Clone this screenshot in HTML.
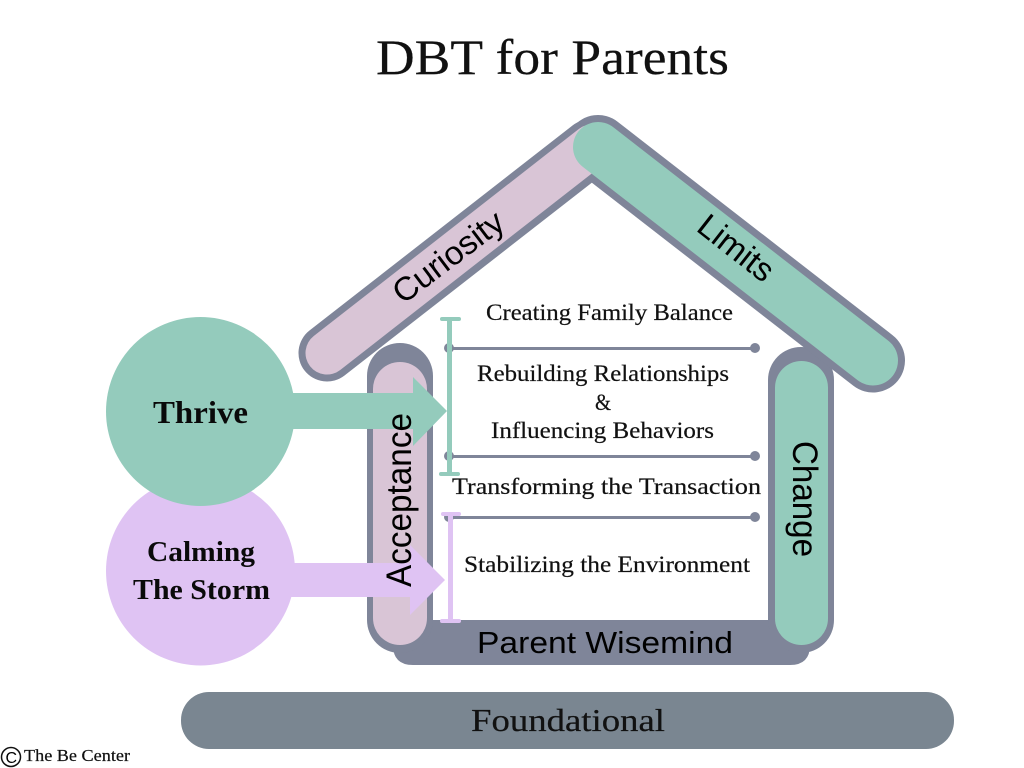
<!DOCTYPE html>
<html>
<head>
<meta charset="utf-8">
<style>
html,body{margin:0;padding:0;background:#fff;width:1024px;height:768px;overflow:hidden}
svg{display:block}
.s{font-family:"Liberation Serif",serif;fill:#111;stroke:#111;stroke-width:.2}
.b{font-family:"Liberation Serif",serif;font-weight:bold;fill:#0a0a0a}
.a{font-family:"Liberation Sans",sans-serif;fill:#000}
</style>
</head>
<body>
<svg width="1024" height="768" viewBox="0 0 1024 768" xmlns="http://www.w3.org/2000/svg">
<rect width="1024" height="768" fill="#fff"/>

<text class="s" x="376" y="74" font-size="50" textLength="353" lengthAdjust="spacingAndGlyphs">DBT for Parents</text>

<rect x="181" y="692" width="773" height="57" rx="28" fill="#7a8691"/>
<text class="s" x="471" y="731" font-size="32" textLength="194" lengthAdjust="spacingAndGlyphs">Foundational</text>

<path d="M393 620H810V645Q810 665 790 665H413Q393 665 393 645Z" fill="#7f8599"/>

<rect x="367" y="343" width="66" height="310" rx="33" fill="#7f8599"/>
<rect x="373" y="362" width="54" height="283" rx="27" fill="#d9c5d6"/>
<rect x="768" y="347" width="66" height="306" rx="33" fill="#7f8599"/>
<rect x="775" y="361" width="53" height="284" rx="26.500" fill="#94cbbc"/>

<line x1="873" y1="360.500" x2="598" y2="147" stroke="#7f8599" stroke-width="64" stroke-linecap="round"/>
<line x1="327" y1="353" x2="590" y2="148" stroke="#7f8599" stroke-width="57" stroke-linecap="round"/>
<line x1="327" y1="353" x2="592" y2="146" stroke="#d9c5d6" stroke-width="43" stroke-linecap="round"/>
<line x1="873" y1="360.500" x2="598" y2="147" stroke="#94cbbc" stroke-width="50" stroke-linecap="round"/>

<g stroke="#7f8599" stroke-width="3">
<line x1="449" y1="348.500" x2="755" y2="348.500"/>
<line x1="449" y1="456.500" x2="755" y2="456.500"/>
<line x1="449" y1="517.500" x2="755" y2="517.500"/>
</g>
<g fill="#7f8599">
<circle cx="449" cy="348" r="5"/><circle cx="755" cy="348" r="5"/>
<circle cx="449" cy="456" r="5"/><circle cx="755" cy="456" r="5"/>
<circle cx="449" cy="517" r="5"/><circle cx="755" cy="517" r="5"/>
</g>

<circle cx="200.500" cy="571" r="94.500" fill="#dfc3f3"/>
<circle cx="200.500" cy="411.500" r="94.500" fill="#94cbbc"/>

<polygon points="290,393 413,393 413,377 447,411 413,446 413,429 290,429" fill="#94cbbc"/>
<polygon points="290,563 410,563 410,545 445,580 410,615 410,597 290,597" fill="#dfc3f3"/>

<rect x="447" y="319" width="5" height="155" fill="#94cbbc"/>
<rect x="440" y="317" width="21" height="4" rx="2" fill="#94cbbc"/>
<rect x="439" y="472" width="21" height="4" rx="2" fill="#94cbbc"/>
<rect x="448" y="514" width="5" height="107" fill="#dfc3f3"/>
<rect x="441" y="512" width="20" height="4" rx="2" fill="#dfc3f3"/>
<rect x="440" y="619" width="21" height="4" rx="2" fill="#dfc3f3"/>

<text class="s" x="486" y="320" font-size="23" textLength="247" lengthAdjust="spacingAndGlyphs">Creating Family Balance</text>
<text class="s" x="477" y="381" font-size="23" textLength="252" lengthAdjust="spacingAndGlyphs">Rebuilding Relationships</text>
<text class="s" x="595" y="410" font-size="23" textLength="16" lengthAdjust="spacingAndGlyphs">&amp;</text>
<text class="s" x="491" y="438" font-size="23" textLength="223" lengthAdjust="spacingAndGlyphs">Influencing Behaviors</text>
<text class="s" x="452" y="494" font-size="23" textLength="309" lengthAdjust="spacingAndGlyphs">Transforming the Transaction</text>
<text class="s" x="464" y="572" font-size="23" textLength="286" lengthAdjust="spacingAndGlyphs">Stabilizing the Environment</text>

<text class="b" x="153" y="423" font-size="32" textLength="95" lengthAdjust="spacingAndGlyphs">Thrive</text>
<text class="b" x="147" y="561" font-size="28" textLength="108" lengthAdjust="spacingAndGlyphs">Calming</text>
<text class="b" x="133" y="599" font-size="28" textLength="137" lengthAdjust="spacingAndGlyphs">The Storm</text>

<text class="a" x="477" y="653" font-size="31" textLength="256" lengthAdjust="spacingAndGlyphs">Parent Wisemind</text>
<text class="a" transform="translate(411 587) rotate(-90)" font-size="35" textLength="174" lengthAdjust="spacingAndGlyphs">Acceptance</text>
<text class="a" transform="translate(793 441) rotate(90)" font-size="35" textLength="116" lengthAdjust="spacingAndGlyphs">Change</text>
<text class="a" transform="translate(403 305) rotate(-37)" font-size="33" textLength="130" lengthAdjust="spacingAndGlyphs">Curiosity</text>
<text class="a" transform="translate(695 230) rotate(38)" font-size="33" textLength="87" lengthAdjust="spacingAndGlyphs">Limits</text>

<circle cx="11" cy="757" r="9.500" fill="none" stroke="#111" stroke-width="1.500"/>
<text class="a" x="5.500" y="763" font-size="16" fill="#111">C</text>
<text class="s" x="24" y="761" font-size="16.500" textLength="106" lengthAdjust="spacingAndGlyphs">The Be Center</text>
</svg>
</body>
</html>
